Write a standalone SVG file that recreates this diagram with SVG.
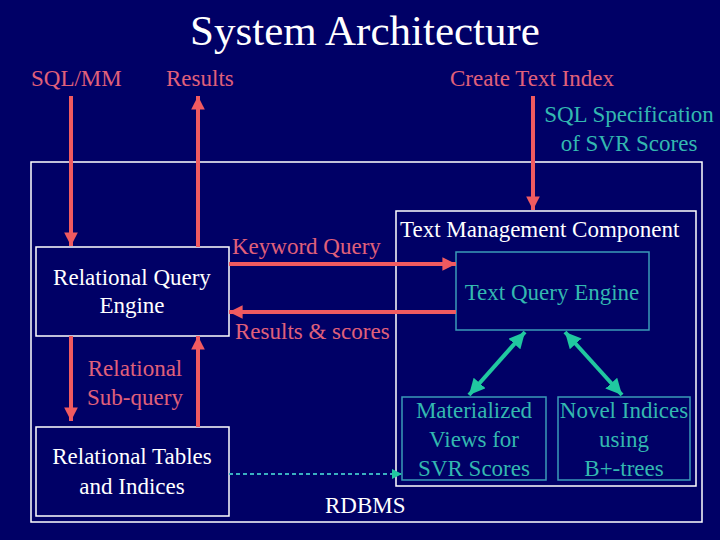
<svg xmlns="http://www.w3.org/2000/svg" width="720" height="540" viewBox="0 0 720 540">
<defs>
<style>
.w{fill:#ffffff}
.p{fill:#e0607a}
.t{fill:#33b8b0}
.box{fill:none;stroke:#ffffff;stroke-width:1.5}
.tbox{fill:none;stroke:#3a9ab8;stroke-width:1.5}
.red{stroke:#f05a60;stroke-width:4;fill:none}
.grn{stroke:#20c8a0;stroke-width:4;fill:none}
.dot{stroke:#3ab0c0;stroke-width:2;stroke-dasharray:4 3;fill:none}
</style>
<marker id="ar" viewBox="0 0 10 10" refX="10" refY="5" markerWidth="3.4" markerHeight="3.4" orient="auto" markerUnits="strokeWidth"><path d="M0,0 L10,5 L0,10 z" fill="#f05a60"/></marker>
<marker id="ag" viewBox="0 0 10 10" refX="10" refY="5" markerWidth="4" markerHeight="4" orient="auto-start-reverse" markerUnits="strokeWidth"><path d="M0,0 L10,5 L0,10 z" fill="#20c8a0"/></marker>
<marker id="at" viewBox="0 0 10 10" refX="10" refY="5" markerWidth="5" markerHeight="5" orient="auto" markerUnits="strokeWidth"><path d="M0,0 L10,5 L0,10 z" fill="#20c8a0"/></marker>
</defs>
<rect width="720" height="540" fill="#000066"/>
<text x="365" y="45" text-anchor="middle" class="w" font-family="Liberation Serif, Times New Roman, serif" font-size="43">System Architecture</text>
<g id="labels-top">
<text x="31" y="86" class="p" font-family="Liberation Serif, Times New Roman, serif" font-size="23">SQL/MM</text>
<text x="166" y="86" class="p" font-family="Liberation Serif, Times New Roman, serif" font-size="23">Results</text>
<text x="450" y="86" class="p" font-family="Liberation Serif, Times New Roman, serif" font-size="23">Create Text Index</text>
<text x="629" y="122" text-anchor="middle" class="t" font-family="Liberation Serif, Times New Roman, serif" font-size="23">SQL Specification</text>
<text x="629" y="151" text-anchor="middle" class="t" font-family="Liberation Serif, Times New Roman, serif" font-size="23">of SVR Scores</text>
</g>
<g id="rdbms">
<rect x="31" y="162" width="671" height="360" class="box"/>
<text x="325" y="513" class="w" font-family="Liberation Serif, Times New Roman, serif" font-size="23">RDBMS</text>
</g>
<g id="rqe">
<rect x="36" y="247" width="193" height="89" class="box"/>
<text x="132" y="285" text-anchor="middle" class="w" font-family="Liberation Serif, Times New Roman, serif" font-size="23">Relational Query</text>
<text x="132" y="313" text-anchor="middle" class="w" font-family="Liberation Serif, Times New Roman, serif" font-size="23">Engine</text>
</g>
<g id="rti">
<rect x="36" y="427" width="193" height="89" class="box"/>
<text x="132" y="464" text-anchor="middle" class="w" font-family="Liberation Serif, Times New Roman, serif" font-size="23">Relational Tables</text>
<text x="132" y="494" text-anchor="middle" class="w" font-family="Liberation Serif, Times New Roman, serif" font-size="23">and Indices</text>
</g>
<g id="tmc">
<rect x="396" y="211" width="300" height="275" class="box"/>
<text x="400" y="237" class="w" font-family="Liberation Serif, Times New Roman, serif" font-size="23">Text Management Component</text>
</g>
<g id="tqe">
<rect x="456" y="252" width="193" height="78" class="tbox"/>
<text x="552" y="300" text-anchor="middle" class="t" font-family="Liberation Serif, Times New Roman, serif" font-size="23">Text Query Engine</text>
</g>
<g id="mv">
<rect x="402" y="397" width="144" height="83" class="tbox"/>
<text x="474" y="418" text-anchor="middle" class="t" font-family="Liberation Serif, Times New Roman, serif" font-size="23">Materialized</text>
<text x="474" y="447" text-anchor="middle" class="t" font-family="Liberation Serif, Times New Roman, serif" font-size="23">Views for</text>
<text x="474" y="476" text-anchor="middle" class="t" font-family="Liberation Serif, Times New Roman, serif" font-size="23">SVR Scores</text>
</g>
<g id="ni">
<rect x="558" y="397" width="132" height="83" class="tbox"/>
<text x="624" y="418" text-anchor="middle" class="t" font-family="Liberation Serif, Times New Roman, serif" font-size="23">Novel Indices</text>
<text x="624" y="447" text-anchor="middle" class="t" font-family="Liberation Serif, Times New Roman, serif" font-size="23">using</text>
<text x="624" y="476" text-anchor="middle" class="t" font-family="Liberation Serif, Times New Roman, serif" font-size="23">B+-trees</text>
</g>
<g id="connectors">
<line x1="71" y1="96" x2="71" y2="246" class="red" marker-end="url(#ar)"/>
<line x1="198" y1="247" x2="198" y2="96" class="red" marker-end="url(#ar)"/>
<line x1="533" y1="96" x2="533" y2="210" class="red" marker-end="url(#ar)"/>
<line x1="229" y1="264" x2="456" y2="264" class="red" marker-end="url(#ar)"/>
<line x1="456" y1="312" x2="229" y2="312" class="red" marker-end="url(#ar)"/>
<line x1="71" y1="336" x2="71" y2="421" class="red" marker-end="url(#ar)"/>
<line x1="198" y1="427" x2="198" y2="336" class="red" marker-end="url(#ar)"/>
<line x1="525" y1="332" x2="469" y2="395" class="grn" marker-start="url(#ag)" marker-end="url(#ag)"/>
<line x1="565" y1="332" x2="622" y2="395" class="grn" marker-start="url(#ag)" marker-end="url(#ag)"/>
<line x1="229" y1="474" x2="402" y2="474" class="dot" marker-end="url(#at)"/>
<text x="232" y="254" class="p" font-family="Liberation Serif, Times New Roman, serif" font-size="23">Keyword Query</text>
<text x="235" y="339" class="p" font-family="Liberation Serif, Times New Roman, serif" font-size="23">Results &amp; scores</text>
<text x="135" y="376" text-anchor="middle" class="p" font-family="Liberation Serif, Times New Roman, serif" font-size="23">Relational</text>
<text x="135" y="405" text-anchor="middle" class="p" font-family="Liberation Serif, Times New Roman, serif" font-size="23">Sub-query</text>
</g>
</svg>
